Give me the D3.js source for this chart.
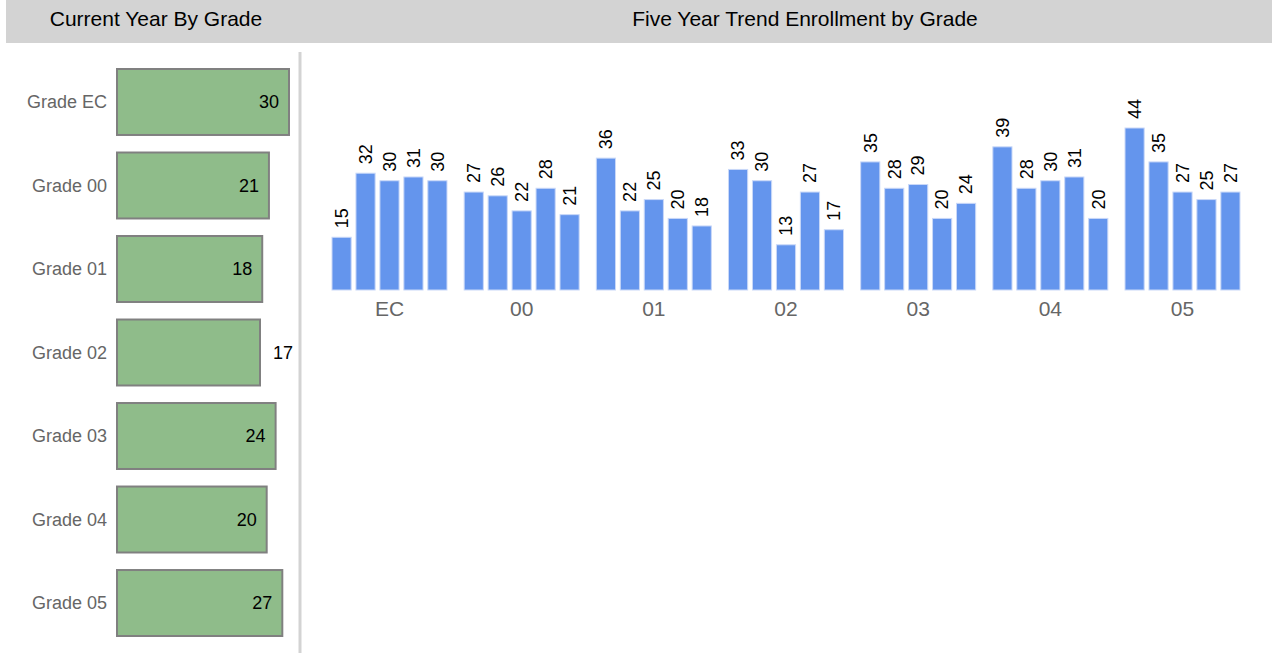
<!DOCTYPE html>
<html>
<head>
<meta charset="utf-8">
<script src="https://cdn.jsdelivr.net/npm/d3@7"></script>
<style>
  body { margin: 0; background: #fff; font-family: "Liberation Sans", Arial, sans-serif; }
</style>
</head>
<body>
<div id="chart"></div>
<script>
(function (d3) {
    'use strict';

    // current year enrollment
    const gradeLabels = ['Grade EC', 'Grade 00', 'Grade 01', 'Grade 02', 'Grade 03', 'Grade 04', 'Grade 05'];
    const currentCounts = [30, 21, 18, 17, 24, 20, 27];

    // five year trend
    const gradeCodes = ['EC', '00', '01', '02', '03', '04', '05'];
    const yearKeys = ['y1', 'y2', 'y3', 'y4', 'y5'];
    const trendEC = [15, 32, 30, 31, 30];
    const trend00 = [27, 26, 22, 28, 21];
    const trend01 = [36, 22, 25, 20, 18];
    const trend02 = [33, 30, 13, 27, 17];
    const trend03 = [35, 28, 29, 20, 24];
    const trend04 = [39, 28, 30, 31, 20];
    const trend05 = [44, 35, 27, 25, 27];
    const trends = [trendEC, trend00, trend01, trend02, trend03, trend04, trend05];

    var width = 1274,
        height = 653;

    var svg = d3.select('#chart').append('svg')
        .attr('width', width)
        .attr('height', height);

    // header band
    svg.append('rect')
        .attr('x', 6).attr('y', 0)
        .attr('width', 1266).attr('height', 43)
        .attr('fill', '#d3d3d3');

    svg.append('text')
        .attr('x', 156).attr('y', 26)
        .attr('text-anchor', 'middle')
        .attr('font-size', 21)
        .text('Current Year By Grade');

    svg.append('text')
        .attr('x', 805).attr('y', 26)
        .attr('text-anchor', 'middle')
        .attr('font-size', 21)
        .text('Five Year Trend Enrollment by Grade');

    // divider
    svg.append('line')
        .attr('x1', 300).attr('x2', 300)
        .attr('y1', 52).attr('y2', height)
        .attr('stroke', '#d3d3d3')
        .attr('stroke-width', 3);

    // ---- left panel: horizontal bars
    var current = gradeLabels.map(function (g, i) { return { grade: g, value: currentCounts[i] }; });

    var yBand = d3.scaleBand()
        .domain(gradeLabels)
        .range([69, 636])
        .paddingInner(0.21)
        .paddingOuter(0);

    var wScale = d3.scaleLinear()
        .domain([17, 30])
        .range([143, 172]);

    var left = svg.append('g');

    left.selectAll('rect.cur').data(current).enter()
        .append('rect')
            .attr('class', 'cur')
            .attr('x', 117)
            .attr('y', function (d) { return yBand(d.grade); })
            .attr('width', function (d) { return wScale(d.value); })
            .attr('height', yBand.bandwidth())
            .attr('fill', '#8fbc8a')
            .attr('stroke', '#808080')
            .attr('stroke-width', 2);

    left.selectAll('text.grade').data(current).enter()
        .append('text')
            .attr('class', 'grade')
            .attr('x', 107)
            .attr('y', function (d) { return yBand(d.grade) + yBand.bandwidth() / 2; })
            .attr('dy', '0.35em')
            .attr('text-anchor', 'end')
            .attr('font-size', 18)
            .attr('fill', '#666')
            .text(function (d) { return d.grade; });

    left.selectAll('text.val').data(current).enter()
        .append('text')
            .attr('class', 'val')
            .attr('x', function (d) {
                var r = 117 + wScale(d.value);
                return d.value < 18 ? r + 13 : r - 10;
            })
            .attr('y', function (d) { return yBand(d.grade) + yBand.bandwidth() / 2; })
            .attr('dy', '0.35em')
            .attr('text-anchor', function (d) { return d.value < 18 ? 'start' : 'end'; })
            .attr('font-size', 18)
            .attr('fill', '#000')
            .text(function (d) { return d.value; });

    // ---- right panel: grouped columns
    var x0 = d3.scaleBand()
        .domain(gradeCodes)
        .range([332, 1240])
        .paddingInner(0.13)
        .paddingOuter(0);

    var x1 = d3.scaleBand()
        .domain(yearKeys)
        .range([0, x0.bandwidth()])
        .paddingInner(0.2)
        .paddingOuter(0);

    var y = d3.scaleLinear()
        .domain([1, 44])
        .range([290, 128]);

    var groups = svg.selectAll('g.grp').data(gradeCodes).enter()
        .append('g')
            .attr('class', 'grp')
            .attr('transform', function (d) { return 'translate(' + x0(d) + ',0)'; });

    var cells = function (g, gi) {
        return yearKeys.map(function (k, i) { return { key: k, value: trends[gi][i] }; });
    };

    groups.selectAll('rect').data(cells).enter()
        .append('rect')
            .attr('x', function (d) { return x1(d.key); })
            .attr('y', function (d) { return y(d.value); })
            .attr('width', x1.bandwidth())
            .attr('height', function (d) { return y.range()[0] - y(d.value); })
            .attr('fill', '#6495ed')
            .attr('stroke', '#c9d8f8')
            .attr('stroke-width', 1);

    groups.selectAll('text.lbl').data(cells).enter()
        .append('text')
            .attr('class', 'lbl')
            .attr('transform', function (d) {
                return 'translate(' + (x1(d.key) + x1.bandwidth() / 2) + ',' + (y(d.value) - 9) + ') rotate(-90)';
            })
            .attr('dy', '0.35em')
            .attr('text-anchor', 'start')
            .attr('font-size', 18)
            .attr('fill', '#000')
            .text(function (d) { return d.value; });

    groups.append('text')
        .attr('x', x0.bandwidth() / 2)
        .attr('y', 309)
        .attr('dy', '0.35em')
        .attr('text-anchor', 'middle')
        .attr('font-size', 21)
        .attr('fill', '#666')
        .text(function (d) { return d; });

})(d3);
</script>
</body>
</html>
